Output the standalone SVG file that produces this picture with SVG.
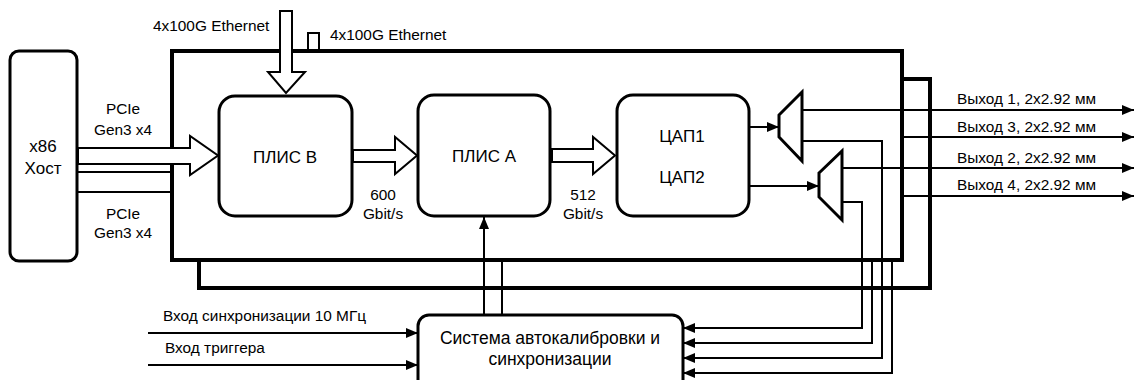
<svg xmlns="http://www.w3.org/2000/svg" width="1134" height="380" viewBox="0 0 1134 380">
<style>
text{font-family:"Liberation Sans",Arial,sans-serif;fill:#000}
.lbl{font-size:15.4px}
.nd{font-size:17px}
.sy{font-size:17.5px}
.mid{text-anchor:middle}
.board{fill:#fff;stroke:#000;stroke-width:4}
.box{fill:#fff;stroke:#000;stroke-width:3}
.hollow{fill:#fff;stroke:#000;stroke-width:2;stroke-linejoin:miter}
.ln{fill:none;stroke:#000;stroke-width:2}
</style>
<defs>
<marker id="ah" markerUnits="userSpaceOnUse" markerWidth="13" markerHeight="11" refX="12" refY="5" orient="auto">
<path d="M0,0 L12,5 L0,10 z" fill="#000"/>
</marker>
</defs>
<rect width="1134" height="380" fill="#fff"/>
<g id="board-back"><rect class="board" x="199" y="79" width="731" height="209"/></g>
<g id="board-front"><rect class="board" x="172" y="51" width="730" height="209"/></g>
<g id="host"><rect class="box" x="10" y="51" width="67" height="210" rx="9"/>
<text class="nd mid" x="43" y="152">x86</text><text class="nd mid" x="43" y="174">Хост</text></g>
<g id="plis-b"><rect class="box" x="219" y="96" width="133" height="120" rx="16"/>
<text class="nd mid" x="285" y="163">ПЛИС В</text></g>
<g id="plis-a"><rect class="box" x="418" y="95" width="132" height="121" rx="16"/>
<text class="nd mid" x="484" y="162">ПЛИС А</text></g>
<g id="dac"><rect class="box" x="617" y="95" width="132" height="121" rx="16"/>
<text class="nd mid" x="682" y="142">ЦАП1</text><text class="nd mid" x="682" y="183">ЦАП2</text></g>
<g id="mux1"><polygon class="box" points="779,115 802,92 802,161 779,137"/></g>
<g id="mux2"><polygon class="box" points="819,173 842,151 842,220 819,197"/></g>
<g id="sync"><rect class="box" x="418" y="315" width="265" height="85" rx="11"/>
<text class="sy mid" x="550" y="344">Система автокалибровки и</text><text class="sy mid" x="550" y="365">синхронизации</text></g>
<g id="connectors">
<polygon class="hollow" points="280,11 292,11 292,72 305,72 286,93 268,72 280,72"/>
<path class="ln" d="M308,51 V33 H319 V51"/>
<polygon class="hollow" points="78,148 190,148 190,136 218,155.5 190,175 190,164 78,164"/>
<path class="ln" d="M78,172 H172 M78,192 H172"/>
<polygon class="hollow" points="353,150 395,150 395,137 417,155.5 395,174 395,162 353,162"/>
<polygon class="hollow" points="552,149 593,149 593,137 615,155.5 593,174 593,162 552,162"/>
<path class="ln" d="M749,127 H779" marker-end="url(#ah)"/>
<path class="ln" d="M749,186 H819" marker-end="url(#ah)"/>
<path class="ln" d="M802,110 H1134" marker-end="url(#ah)"/>
<path class="ln" d="M903,137 H1134" marker-end="url(#ah)"/>
<path class="ln" d="M842,168 H1134" marker-end="url(#ah)"/>
<path class="ln" d="M903,196 H1134" marker-end="url(#ah)"/>
<path class="ln" d="M802,141 H882 V358 H683" marker-end="url(#ah)"/>
<path class="ln" d="M842,202 H862 V328 H683" marker-end="url(#ah)"/>
<path class="ln" d="M872,260 V343 H683" marker-end="url(#ah)"/>
<path class="ln" d="M892,260 V373 H683" marker-end="url(#ah)"/>
<path class="ln" d="M148,333 H418" marker-end="url(#ah)"/>
<path class="ln" d="M148,365 H418" marker-end="url(#ah)"/>
<path class="ln" d="M484,315 V217" marker-end="url(#ah)"/>
<path class="ln" d="M502,260 V315"/>
</g>
<g id="labels">
<text class="lbl" x="153" y="31">4x100G Ethernet</text>
<text class="lbl" x="330" y="40">4x100G Ethernet</text>
<text class="lbl mid" x="123" y="114">PCIe</text><text class="lbl mid" x="123" y="135">Gen3 x4</text>
<text class="lbl mid" x="123" y="219">PCIe</text><text class="lbl mid" x="123" y="238">Gen3 x4</text>
<text class="lbl mid" x="383" y="200">600</text><text class="lbl mid" x="383" y="219">Gbit/s</text>
<text class="lbl mid" x="583" y="200">512</text><text class="lbl mid" x="583" y="219">Gbit/s</text>
<text class="lbl" x="957" y="104">Выход 1, 2x2.92 мм</text>
<text class="lbl" x="957" y="132">Выход 3, 2x2.92 мм</text>
<text class="lbl" x="957" y="163">Выход 2, 2x2.92 мм</text>
<text class="lbl" x="957" y="190">Выход 4, 2x2.92 мм</text>
<text class="lbl" x="163" y="321">Вход синхронизации 10 МГц</text>
<text class="lbl" x="165" y="353">Вход триггера</text>
</g>
</svg>
